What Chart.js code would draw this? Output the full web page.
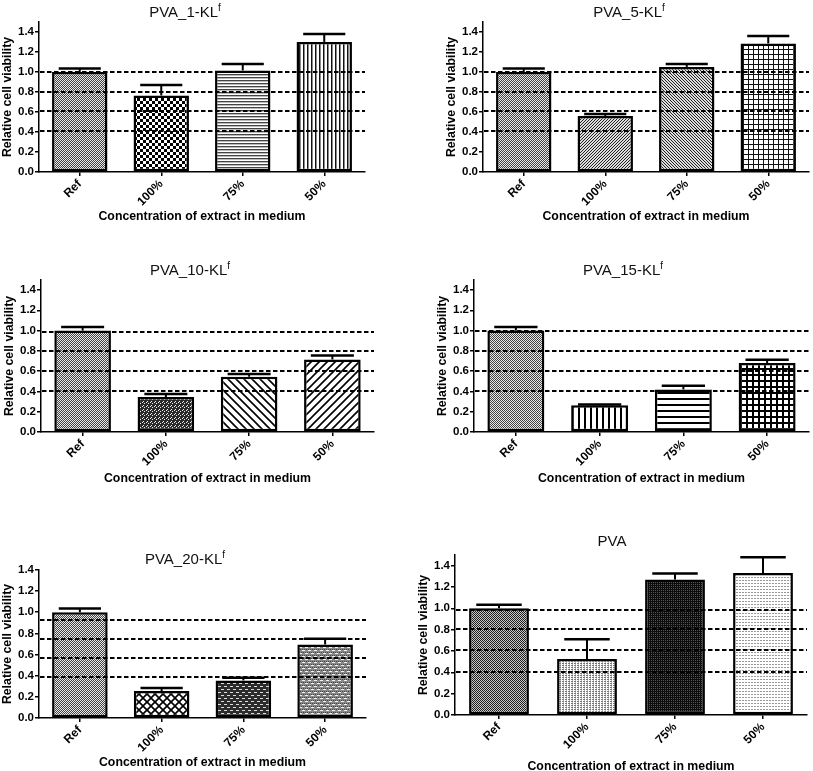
<!DOCTYPE html>
<html>
<head>
<meta charset="utf-8">
<script src="https://cdn.jsdelivr.net/npm/chart.js@4.4.0/dist/chart.umd.min.js"></script>
<style>
  html, body { margin: 0; padding: 0; background: #fff; overflow: hidden; }
  body { width: 813px; height: 771px; position: relative; font-family: 'Liberation Sans', Arial, sans-serif; }
  canvas { position: absolute; }
  .ttl { position: absolute; font-size: 15px; line-height: 18px; color: #111; white-space: nowrap; transform: translateX(-50%); }
  .ttl sup { font-size: 10px; vertical-align: 6px; line-height: 0; }
</style>
</head>
<body>
<script>
// Datos
const categories = ['Ref', '100%', '75%', '50%'];
const yTicks = [0, 0.2, 0.4, 0.6, 0.8, 1.0, 1.2, 1.4];

const pva1Means = [1.00, 0.765, 1.015, 1.30];
const pva1Sem   = [0.035, 0.105, 0.065, 0.08];
const pva1Lines = [0.995, 0.80, 0.61, 0.405];

const pva5Means = [1.00, 0.56, 1.05, 1.285];
const pva5Sem   = [0.035, 0.02, 0.03, 0.075];
const pva5Lines = [0.995, 0.80, 0.61, 0.405];

const pva10Means = [1.00, 0.345, 0.545, 0.715];
const pva10Sem   = [0.035, 0.03, 0.027, 0.04];
const pva10Lines = [0.99, 0.80, 0.606, 0.408];

const pva15Means = [1.00, 0.265, 0.42, 0.68];
const pva15Sem   = [0.035, 0.005, 0.035, 0.033];
const pva15Lines = [0.995, 0.80, 0.605, 0.408];

const pva20Means = [1.00, 0.255, 0.355, 0.695];
const pva20Sem   = [0.035, 0.028, 0.025, 0.055];
const pva20Lines = [0.923, 0.749, 0.567, 0.39];

const pvaMeans = [1.00, 0.525, 1.27, 1.33];
const pvaSem   = [0.033, 0.185, 0.056, 0.148];
const pvaLines = [0.987, 0.802, 0.607, 0.407];

// Tramas de relleno
function tile(w, h, bg, draw) {
  const c = document.createElement('canvas');
  c.width = w; c.height = h;
  const x = c.getContext('2d');
  x.fillStyle = bg;
  x.fillRect(0, 0, w, h);
  draw(x);
  return x.createPattern(c, 'repeat');
}
function px(x, col, pts) {
  x.fillStyle = col;
  pts.forEach(p => x.fillRect(p[0], p[1], 1, 1));
}
function diag(x, size, forward, lw) {
  x.strokeStyle = '#000';
  x.lineWidth = lw;
  x.beginPath();
  for (let k = -1; k <= 1; k++) {
    if (forward) { x.moveTo(k * size - 1, size + 1); x.lineTo(k * size + size + 1, -1); }
    else { x.moveTo(k * size - 1, -1); x.lineTo(k * size + size + 1, size + 1); }
  }
  x.stroke();
}

const patterns = {
  refDots: () => tile(2, 2, '#e8e8e8', x => px(x, '#444', [[0, 0], [1, 1]])),
  checker: () => tile(6, 6, '#fff', x => { x.fillStyle = '#000'; x.fillRect(0, 0, 3, 3); x.fillRect(3, 3, 3, 3); }),
  hFine: () => tile(1, 3, '#fff', x => { x.fillStyle = '#444'; x.fillRect(0, 0, 1, 1); x.fillStyle = '#bbb'; x.fillRect(0, 1, 1, 1); }),
  vFine: () => tile(4, 1, '#fff', x => { x.fillStyle = '#111'; x.fillRect(0, 0, 1, 1); x.fillStyle = '#888'; x.fillRect(1, 0, 1, 1); }),
  fdiagFine: () => tile(3, 3, '#ddd', x => px(x, '#222', [[2, 0], [1, 1], [0, 2]])),
  bdiagFine: () => tile(3, 3, '#ddd', x => px(x, '#222', [[0, 0], [1, 1], [2, 2]])),
  gridFine: () => tile(5, 5, '#fff', x => { x.fillStyle = '#111'; x.fillRect(0, 0, 5, 1); x.fillRect(0, 0, 1, 5); }),
  darkSlash: () => tile(4, 4, '#2a2a2a', x => px(x, '#eee', [[2, 1], [1, 2], [3, 3]])),
  bdiagWide: () => tile(8, 8, '#fff', x => diag(x, 8, false, 1.6)),
  fdiagWide: () => tile(8, 8, '#fff', x => diag(x, 8, true, 1.6)),
  vWide: () => tile(6, 1, '#fff', x => { x.fillStyle = '#000'; x.fillRect(0, 0, 2, 1); }),
  hWide: () => tile(1, 6, '#fff', x => { x.fillStyle = '#000'; x.fillRect(0, 0, 1, 2); }),
  gridWide: () => tile(6, 6, '#fff', x => { x.fillStyle = '#000'; x.fillRect(0, 0, 6, 2); x.fillRect(0, 0, 2, 6); }),
  diamond: () => tile(8, 8, '#fff', x => { diag(x, 8, true, 1.6); diag(x, 8, false, 1.6); }),
  brickDark: () => tile(6, 6, '#2c2c2c', x => { x.fillStyle = '#ddd'; x.fillRect(0, 1, 3, 1); x.fillRect(3, 4, 3, 1); }),
  brickGray: () => tile(6, 6, '#8a8a8a', x => { px(x, '#444', [[0, 0], [2, 0], [4, 0], [1, 3], [3, 3], [5, 3]]); x.fillStyle = '#f2f2f2'; x.fillRect(0, 1, 3, 1); x.fillRect(3, 4, 3, 1); }),
  refDark: () => tile(2, 2, '#c8c8c8', x => px(x, '#1e1e1e', [[0, 0], [1, 1]])),
  lightDots: () => tile(3, 2, '#fff', x => { px(x, '#777', [[0, 0], [1, 0]]); px(x, '#bbb', [[1, 1]]); }),
  darkDense: () => tile(2, 2, '#555', x => px(x, '#0c0c0c', [[0, 0], [1, 1], [1, 0]])),
  sparseDots: () => tile(3, 3, '#fff', x => px(x, '#999', [[0, 0], [1, 0]]))
};

// Lineas discontinuas de referencia
const refLinesPlugin = {
  id: 'refLines',
  afterDatasetsDraw(chart, args, opts) {
    const {ctx, chartArea} = chart;
    const y = chart.scales.y;
    ctx.save();
    ctx.strokeStyle = '#000';
    ctx.lineWidth = 2;
    ctx.setLineDash([4.5, 2.5]);
    (opts.values || []).forEach(v => {
      const py = Math.round(y.getPixelForValue(v));
      ctx.beginPath();
      ctx.moveTo(chartArea.left + 1, py);
      ctx.lineTo(chartArea.right, py);
      ctx.stroke();
    });
    ctx.restore();
  }
};

// Barras de error (solo hacia arriba)
const errorBarsPlugin = {
  id: 'errorBars',
  afterDatasetsDraw(chart) {
    const {ctx} = chart;
    const y = chart.scales.y;
    const ds = chart.data.datasets[0];
    const meta = chart.getDatasetMeta(0);
    ctx.save();
    ctx.strokeStyle = '#000';
    meta.data.forEach((bar, i) => {
      const top = y.getPixelForValue(ds.data[i] + ds.errors[i]);
      ctx.lineWidth = 2;
      ctx.beginPath();
      ctx.moveTo(bar.x, bar.y);
      ctx.lineTo(bar.x, top);
      ctx.stroke();
      const half = bar.width * 0.38;
      ctx.lineWidth = 2.5;
      ctx.beginPath();
      ctx.moveTo(bar.x - half, top);
      ctx.lineTo(bar.x + half, top);
      ctx.stroke();
    });
    ctx.restore();
  }
};

const fam = "'Liberation Sans', Arial, sans-serif";
const yTickFont = {family: fam, size: 11.5, weight: 'bold'};
const xTickFont = {family: fam, size: 12, weight: 'bold'};
const axisFont = {family: fam, size: 12.3, weight: 'bold'};

const panels = [
  {title: 'PVA_1-KL', sup: 'f', means: pva1Means, sem: pva1Sem, lines: pva1Lines, yMax: 1.5,
   fills: ['refDots', 'checker', 'hFine', 'vFine'], left: -1, top: 14, w: 372, h: 210, xh: 52, titleX: 185, titleY: 3},
  {title: 'PVA_5-KL', sup: 'f', means: pva5Means, sem: pva5Sem, lines: pva5Lines, yMax: 1.5,
   fills: ['refDots', 'fdiagFine', 'bdiagFine', 'gridFine'], left: 443, top: 14, w: 372, h: 210, xh: 52, titleX: 629, titleY: 3},
  {title: 'PVA_10-KL', sup: 'f', means: pva10Means, sem: pva10Sem, lines: pva10Lines, yMax: 1.5,
   fills: ['refDots', 'darkSlash', 'bdiagWide', 'fdiagWide'], left: 1, top: 272, w: 379, h: 214, xh: 54, titleX: 190, titleY: 261},
  {title: 'PVA_15-KL', sup: 'f', means: pva15Means, sem: pva15Sem, lines: pva15Lines, yMax: 1.5,
   fills: ['refDots', 'vWide', 'hWide', 'gridWide'], left: 434, top: 272, w: 381, h: 214, xh: 54, titleX: 623, titleY: 261},
  {title: 'PVA_20-KL', sup: 'f', means: pva20Means, sem: pva20Sem, lines: pva20Lines, yMax: 1.4,
   fills: ['refDots', 'diamond', 'brickDark', 'brickGray'], left: -1, top: 562, w: 373, h: 208, xh: 52, titleX: 185, titleY: 550},
  {title: 'PVA', sup: '', means: pvaMeans, sem: pvaSem, lines: pvaLines, yMax: 1.5,
   fills: ['refDark', 'lightDots', 'darkDense', 'sparseDots'], left: 415, top: 547, w: 398, h: 227, xh: 59, titleX: 612, titleY: 532}
];

panels.forEach(p => {
  const cv = document.createElement('canvas');
  cv.width = p.w; cv.height = p.h;
  cv.style.left = p.left + 'px';
  cv.style.top = p.top + 'px';
  document.body.appendChild(cv);

  const t = document.createElement('div');
  t.className = 'ttl';
  t.style.left = p.titleX + 'px';
  t.style.top = p.titleY + 'px';
  t.innerHTML = p.title + (p.sup ? '<sup>' + p.sup + '</sup>' : '');
  document.body.appendChild(t);

  new Chart(cv.getContext('2d'), {
    type: 'bar',
    data: {
      labels: categories,
      datasets: [{
        data: p.means,
        errors: p.sem,
        backgroundColor: p.fills.map(f => patterns[f]()),
        borderColor: '#000',
        borderWidth: 2.5,
        borderSkipped: false,
        categoryPercentage: 1,
        barPercentage: 0.68
      }]
    },
    options: {
      responsive: false,
      animation: false,
      devicePixelRatio: 1,
      layout: {padding: {top: 6, right: 6, left: 0, bottom: 0}},
      plugins: {
        legend: {display: false},
        tooltip: {enabled: false},
        refLines: {values: p.lines}
      },
      scales: {
        x: {
          grid: {display: true, drawOnChartArea: false, offset: false, tickLength: 4, color: '#000', lineWidth: 1.5},
          border: {display: true, color: '#000', width: 1.5},
          ticks: {color: '#000', font: xTickFont, minRotation: 45, maxRotation: 45, padding: 1, autoSkip: false},
          title: {display: true, text: 'Concentration of extract in medium', color: '#000', font: axisFont, padding: 0},
          afterFit: s => { s.height = p.xh; }
        },
        y: {
          min: 0,
          max: p.yMax,
          afterBuildTicks: s => { s.ticks = yTicks.map(v => ({value: v})); },
          grid: {display: true, drawOnChartArea: false, tickLength: 4, color: '#000', lineWidth: 1.5},
          border: {display: true, color: '#000', width: 1.5},
          ticks: {color: '#000', font: yTickFont, padding: 1, callback: v => Number(v).toFixed(1)},
          title: {display: true, text: 'Relative cell viability', color: '#000', font: axisFont, padding: {top: 1, bottom: 0}},
          afterFit: s => { s.width = 40; }
        }
      }
    },
    plugins: [errorBarsPlugin, refLinesPlugin]
  });
});
</script>
</body>
</html>
